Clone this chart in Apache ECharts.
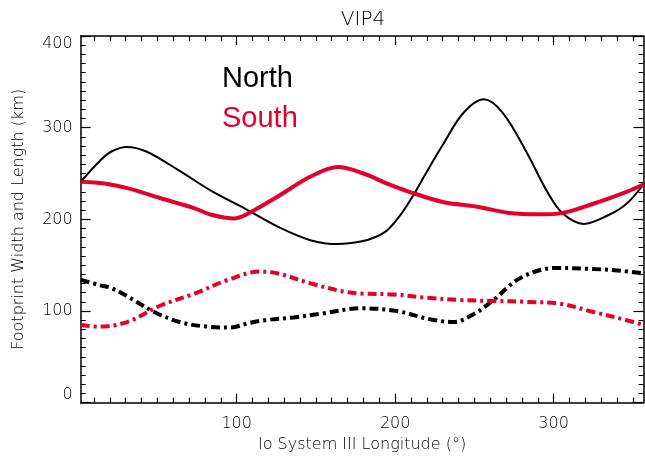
<!DOCTYPE html>
<html>
<head>
<meta charset="utf-8">
<script src="https://cdn.jsdelivr.net/npm/echarts@6/dist/echarts.min.js"></script>
<style>
html,body{margin:0;padding:0;background:#fff;}
#chart{width:645px;height:459px;}
</style>
</head>
<body>
<div id="chart"></div>
<script>
// ---- Data ----
const northSolidLon = [1.6, 13.8, 21, 30.6, 43, 63, 84, 105, 126, 147, 164, 179, 188, 195, 203, 211, 220, 230, 243, 256, 268, 283, 296, 306, 319, 335, 346, 356.7];
const northSolidVal = [241, 264, 274, 279, 274, 254, 231, 212, 192, 177, 173, 176, 181, 188, 204, 225, 252, 281, 316, 331, 316, 273, 230, 206, 195, 205, 217, 238];

const southSolidLon = [1.6, 16.7, 31, 52, 73.5, 84, 98.7, 111, 126, 147, 164, 180, 195, 209, 230, 251, 272, 291, 304, 325, 346, 356.7];
const southSolidVal = [241, 239, 234, 223, 212, 205, 201, 210, 225, 247, 257, 250, 239, 230, 219, 214, 207, 205.5, 206.5, 217, 230, 238];

const northDashLon = [1.6, 14, 21, 31, 48, 64, 81, 96, 108, 118, 136, 153, 179, 201, 222, 237, 250, 262, 279, 301, 323, 342, 356.7];
const northDashVal = [134, 128, 125, 116, 99, 88, 83, 82, 87, 90, 93, 97, 103, 100, 91, 88, 97, 112, 136, 147, 146, 144, 141];

const southDashLon = [1.6, 12.5, 31, 52, 73.5, 94.5, 114.5, 126, 147, 168, 179, 199, 220, 241, 262, 283, 304, 325, 346, 356.7];
const southDashVal = [85, 83, 88, 106, 119, 134, 143, 141, 130, 121, 119, 118, 114.5, 112, 111, 110, 108, 99, 90, 85];

const xMajorTicks = [100, 200, 300];
const xMinorTicks = [10, 20, 30, 40, 50, 60, 70, 80, 90, 110, 120, 130, 140, 150, 160, 170, 180, 190,
                     210, 220, 230, 240, 250, 260, 270, 280, 290, 310, 320, 330, 340, 350];
const yRange = [0, 400];
const xRange = [1.6, 356.7];

const titleText = 'VIP4';
const xName = 'Io System III Longitude (°)';
const yName = 'Footprint Width and Length (km)';
const seriesNames = ['North', 'South'];

// ---- Styling ----
const RED = '#e3002b';
const FONT = 'DejaVu Sans';
const TXT = '#000';
const LIGHT = 200;

function zip(a, b) { return a.map((v, i) => [v, b[i]]); }

function xAxisDef(position, ticks, len, withLine, withLabels) {
  return {
    type: 'value', min: xRange[0], max: xRange[1], position: position,
    axisLine: { show: withLine, onZero: false, lineStyle: { color: '#000', width: 1.5 } },
    axisTick: { show: true, inside: true, length: len, customValues: ticks, lineStyle: { color: '#000', width: 1.2 } },
    axisLabel: withLabels ? { show: true, customValues: ticks, margin: 13, fontSize: 16, color: TXT, fontFamily: FONT, fontWeight: LIGHT } : { show: false },
    splitLine: { show: false }
  };
}

function yAxisDef(position, withLabels) {
  return {
    type: 'value', min: yRange[0], max: yRange[1], interval: 100, position: position,
    axisLine: { show: true, lineStyle: { color: '#000', width: 1.5 } },
    axisTick: { show: true, inside: true, length: 10, lineStyle: { color: '#000', width: 1.2 } },
    minorTick: { show: true, splitNumber: 10, length: 5, lineStyle: { color: '#000', width: 1 } },
    axisLabel: withLabels ? { show: true, margin: 8, fontSize: 16, color: TXT, fontFamily: FONT, fontWeight: LIGHT,
      verticalAlignMinLabel: 'bottom', verticalAlignMaxLabel: 'top' } : { show: false },
    splitLine: { show: false },
    minorSplitLine: { show: false }
  };
}

const xAxes = [
  xAxisDef('bottom', xMajorTicks, 9, true, true),
  xAxisDef('bottom', xMinorTicks, 5, false, false),
  xAxisDef('top', xMajorTicks, 9, true, false),
  xAxisDef('top', xMinorTicks, 5, false, false)
];
Object.assign(xAxes[0], {
  name: xName, nameLocation: 'middle', nameGap: 33,
  nameTextStyle: { fontSize: 16, color: TXT, fontFamily: FONT, fontWeight: LIGHT }
});

const yAxes = [yAxisDef('left', true), yAxisDef('right', false)];
Object.assign(yAxes[0], {
  name: yName, nameLocation: 'middle', nameGap: 54,
  nameTextStyle: { fontSize: 16, color: TXT, fontFamily: FONT, fontWeight: LIGHT }
});

const dashDot = [9, 4, 3, 4];
const SMOOTH = 0.35;

const option = {
  animation: false,
  backgroundColor: '#fff',
  title: {
    text: titleText, left: 358, textAlign: 'center', top: 5,
    textStyle: { fontSize: 20, fontWeight: LIGHT, color: TXT, fontFamily: FONT }
  },
  legend: {
    data: [
      { name: seriesNames[0], icon: 'none', textStyle: { color: '#000' } },
      { name: seriesNames[1], icon: 'none', textStyle: { color: RED } }
    ],
    orient: 'vertical', left: 217, top: 64, padding: 0,
    itemWidth: 0, itemHeight: 0, itemGap: 11, selectedMode: false,
    textStyle: { fontSize: 29, fontFamily: 'Liberation Sans' }
  },
  grid: { left: 80.7, right: 1.5, top: 36, bottom: 56.3, containLabel: false },
  xAxis: xAxes,
  yAxis: yAxes,
  series: [
    { type: 'line', name: seriesNames[0], data: zip(northSolidLon, northSolidVal), showSymbol: false, smooth: SMOOTH,
      lineStyle: { color: '#000', width: 2 }, itemStyle: { color: '#000' } },
    { type: 'line', name: seriesNames[1], data: zip(southSolidLon, southSolidVal), showSymbol: false, smooth: SMOOTH,
      lineStyle: { color: RED, width: 4 }, itemStyle: { color: RED } },
    { type: 'line', name: 'North (dash-dot)', data: zip(northDashLon, northDashVal), showSymbol: false, smooth: SMOOTH,
      lineStyle: { color: '#000', width: 4, type: dashDot }, itemStyle: { color: '#000' } },
    { type: 'line', name: 'South (dash-dot)', data: zip(southDashLon, southDashVal), showSymbol: false, smooth: SMOOTH,
      lineStyle: { color: RED, width: 4, type: dashDot }, itemStyle: { color: RED } }
  ]
};

const chart = echarts.init(document.getElementById('chart'), null, { renderer: 'canvas' });
chart.setOption(option);
</script>
</body>
</html>
